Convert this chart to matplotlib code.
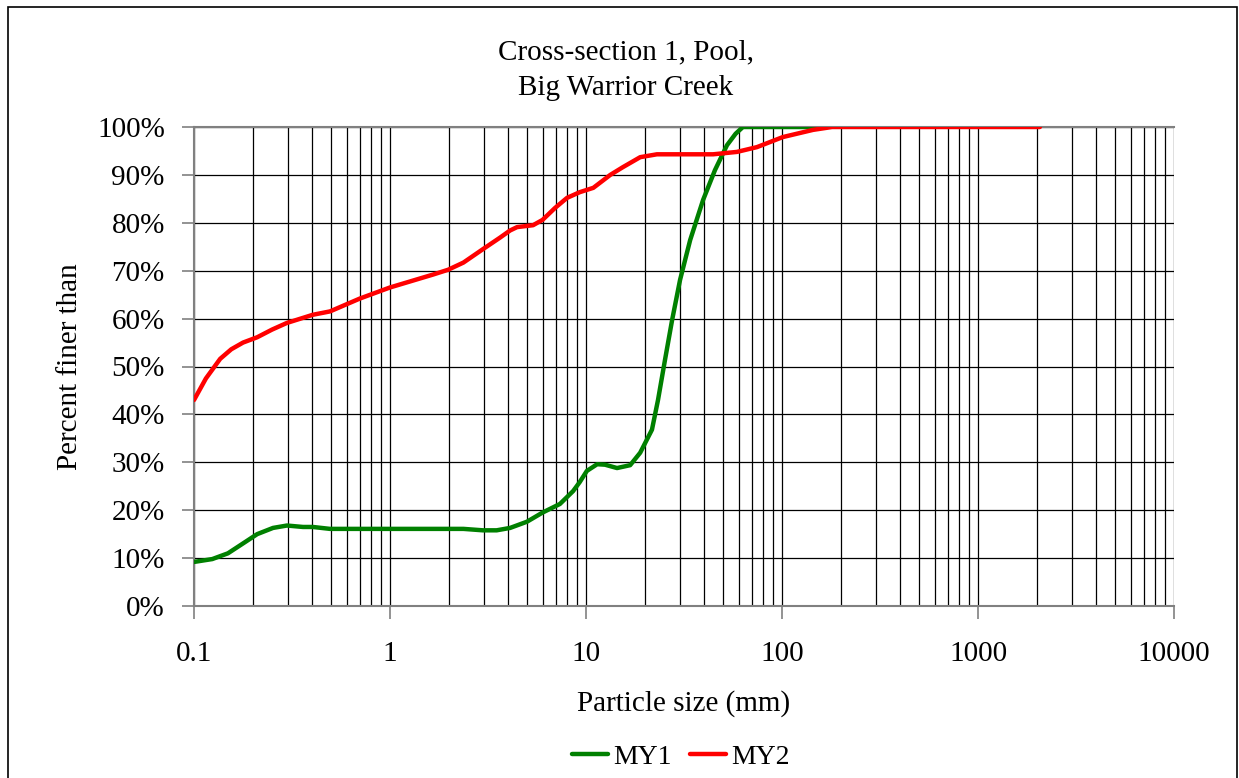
import matplotlib.pyplot as plt
from matplotlib.ticker import FixedLocator, NullFormatter, FuncFormatter
from matplotlib.patches import Rectangle

plt.rcParams["font.family"] = ["Liberation Serif", "DejaVu Serif"]

# particle size (mm) and percent finer
my1_size = [0.1, 0.124, 0.149, 0.18, 0.21, 0.253, 0.298, 0.36, 0.404, 0.494, 1.0,
            2.37, 2.98, 3.5, 4.1, 5.0, 6.0, 7.36, 8.6, 9.3, 10.1, 11.4, 12.5,
            14.4, 16.8, 18.9, 21.7, 23.3, 25.3, 27.5, 30.2, 34.0, 39.6, 45.5,
            52.4, 58.0, 63.2, 80.0, 150.0]
my1_pct = [9.2, 9.8, 11.0, 13.2, 15.0, 16.3, 16.8, 16.5, 16.5, 16.1, 16.1,
           16.1, 15.8, 15.8, 16.3, 17.6, 19.5, 21.3, 24.0, 25.9, 28.2, 29.6, 29.5,
           28.8, 29.4, 32.0, 36.8, 43.0, 51.4, 59.7, 68.1, 76.4, 84.8, 91.0,
           96.2, 98.6, 100.0, 100.0, 100.0]

my2_size = [0.1, 0.115, 0.136, 0.155, 0.178, 0.21, 0.25, 0.298, 0.404, 0.494, 0.703,
            1.0, 1.66, 1.98, 2.37, 2.98, 3.64, 4.1, 4.45, 5.37, 6.0, 6.95, 8.0,
            9.3, 10.9, 13.3, 15.4, 18.9, 23.0, 44.5, 58.9, 74.5, 101, 144, 180,
            500, 2070]
my2_pct = [43.0, 47.5, 51.6, 53.6, 55.0, 56.1, 57.7, 59.1, 60.8, 61.5, 64.2,
           66.5, 69.2, 70.2, 71.7, 74.5, 76.9, 78.4, 79.1, 79.5, 80.6, 83.1, 85.2,
           86.4, 87.3, 90.0, 91.6, 93.7, 94.3, 94.3, 94.8, 95.8, 97.9, 99.4, 100.0,
           100.0, 100.0]

x_ticks = [0.1, 1, 10, 100, 1000, 10000]
x_tick_labels = ["0.1", "1", "10", "100", "1000", "10000"]
y_ticks = list(range(0, 101, 10))

W, H = 1239, 778
fig = plt.figure(figsize=(W / 100, H / 100), dpi=100)
fig.patches.append(Rectangle((8 / W, -0.01), (1237 - 8) / W, 1 - 7 / H + 0.01,
                             transform=fig.transFigure, fill=False, edgecolor="black",
                             linewidth=1.2))
ax = fig.add_axes([194 / W, 1 - 606 / H, 980 / W, 479 / H])

ax.plot(my1_size, my1_pct, color="#008000", linewidth=3.2, label="MY1",
        solid_joinstyle="round", solid_capstyle="round", zorder=3)
ax.plot(my2_size, my2_pct, color="#ff0000", linewidth=3.2, label="MY2",
        solid_joinstyle="round", solid_capstyle="round", zorder=4)

ax.set_xscale("log")
ax.set_xlim(0.1, 10000)
ax.set_ylim(0, 100)

minor = [m * 10.0 ** e for e in range(-1, 4) for m in range(2, 10)]
ax.xaxis.set_major_locator(FixedLocator(x_ticks))
ax.xaxis.set_minor_locator(FixedLocator(minor))
ax.xaxis.set_minor_formatter(NullFormatter())
ax.set_xticklabels(x_tick_labels)
ax.set_yticks(y_ticks)
ax.yaxis.set_major_formatter(FuncFormatter(lambda v, p: f"{int(v)}%"))

ax.grid(True, which="major", color="black", linewidth=0.9)
ax.grid(True, which="minor", axis="x", color="black", linewidth=0.9)
ax.set_axisbelow(True)

for side in ["left", "bottom", "top"]:
    ax.spines[side].set_color("#808080")
    ax.spines[side].set_linewidth(1.5)
ax.spines["right"].set_visible(False)

ax.tick_params(axis="both", which="major", direction="out", length=9, width=1.2,
               color="#808080", labelsize=21)
ax.tick_params(axis="x", which="major", pad=16)
ax.tick_params(axis="y", which="major", pad=12)
ax.tick_params(axis="x", which="minor", length=0)

fig.text(626 / W, 1 - 70 / H, "Cross-section 1, Pool,\nBig Warrior Creek",
         fontsize=21, ha="center", va="center", linespacing=1.5)
fig.text(684 / W, 1 - 704 / H, "Particle size (mm)", fontsize=21,
         ha="center", va="center")
fig.text(70 / W, 1 - 367 / H, "Percent finer than", fontsize=21,
         ha="center", va="center", rotation=90)

fig.legend(loc="center", bbox_to_anchor=(681 / W, 1 - 757 / H), ncol=2, frameon=False,
           fontsize=20, handlelength=1.3, handletextpad=0.2, columnspacing=0.65)

fig.savefig("out.png", dpi=100)
